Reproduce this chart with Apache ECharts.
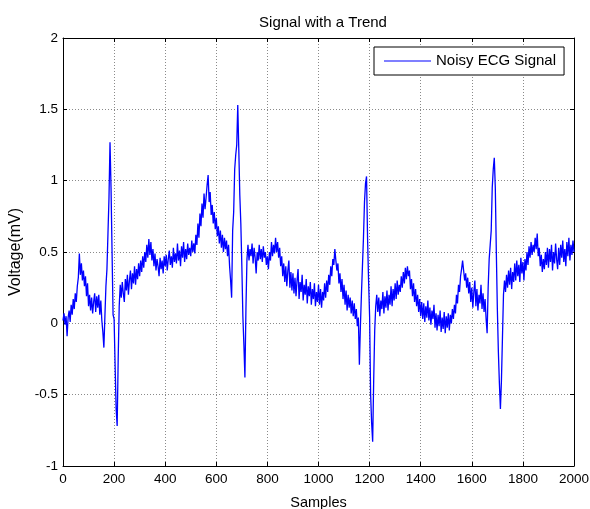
<!DOCTYPE html>
<html>
<head>
<meta charset="utf-8">
<script src="https://cdn.jsdelivr.net/npm/echarts@6/dist/echarts.min.js"></script>
<style>
html,body{margin:0;padding:0;background:#fff;}
#chart{width:590px;height:509px;}
</style>
</head>
<body>
<div id="chart"></div>
<script>
// Chart data
var titleText = 'Signal with a Trend';
var seriesName = 'Noisy ECG Signal';
var xTicks = [0, 200, 400, 600, 800, 1000, 1200, 1400, 1600, 1800, 2000];
var yTicks = [-1, -0.5, 0, 0.5, 1, 1.5, 2];
var sampleStep = 4; // voltage values are read every 4 samples, from sample 0 to 2000
var voltage = [
  // 0-96
  0.02, 0.07, -0.01, 0.05, -0.09, 0.04, 0.09, 0.01, 0.13, 0.06, 0.17, 0.10, 0.21, 0.15, 0.26, 0.32, 0.49, 0.34, 0.42, 0.30, 0.37, 0.26, 0.33, 0.19, 0.28,
  // 100-196
  0.12, 0.20, 0.09, 0.18, 0.07, 0.15, 0.21, 0.08, 0.19, 0.11, 0.20, 0.06, 0.16, 0.02, -0.06, -0.17, 0.05, 0.26, 0.38, 0.63, 0.88, 1.27, 0.95, 0.50, 0.06,
  // 200-296
  0.03, -0.30, -0.60, -0.72, -0.25, 0.12, 0.27, 0.18, 0.29, 0.21, 0.15, 0.31, 0.23, 0.34, 0.20, 0.30, 0.37, 0.24, 0.35, 0.28, 0.40, 0.27, 0.38, 0.31, 0.42,
  // 300-396
  0.33, 0.44, 0.36, 0.47, 0.39, 0.50, 0.43, 0.55, 0.46, 0.59, 0.48, 0.57, 0.44, 0.52, 0.40, 0.49, 0.37, 0.45, 0.40, 0.33, 0.46, 0.38, 0.44, 0.35, 0.47,
  // 400-496
  0.40, 0.48, 0.37, 0.45, 0.51, 0.41, 0.47, 0.39, 0.53, 0.43, 0.49, 0.42, 0.56, 0.44, 0.51, 0.40, 0.54, 0.46, 0.57, 0.43, 0.52, 0.45, 0.56, 0.48, 0.53,
  // 500-596
  0.47, 0.58, 0.50, 0.56, 0.49, 0.62, 0.55, 0.70, 0.60, 0.77, 0.68, 0.84, 0.74, 0.91, 0.80, 0.88, 0.97, 1.04, 0.85, 0.92, 0.76, 0.83, 0.70, 0.78, 0.66,
  // 600-696
  0.74, 0.61, 0.68, 0.56, 0.65, 0.53, 0.62, 0.50, 0.60, 0.52, 0.58, 0.47, 0.55, 0.40, 0.30, 0.18, 0.65, 0.78, 1.08, 1.18, 1.25, 1.53, 1.22, 0.90, 0.70,
  // 700-796
  0.40, 0.05, -0.15, -0.38, 0.10, 0.45, 0.55, 0.44, 0.52, 0.47, 0.56, 0.42, 0.53, 0.46, 0.35, 0.50, 0.44, 0.55, 0.45, 0.52, 0.43, 0.54, 0.46, 0.50, 0.41,
  // 800-896
  0.47, 0.38, 0.50, 0.44, 0.57, 0.47, 0.55, 0.49, 0.60, 0.50, 0.57, 0.46, 0.53, 0.40, 0.47, 0.33, 0.42, 0.29, 0.40, 0.26, 0.37, 0.44, 0.25, 0.36, 0.23,
  // 900-996
  0.35, 0.21, 0.32, 0.19, 0.30, 0.38, 0.17, 0.29, 0.22, 0.34, 0.16, 0.27, 0.20, 0.31, 0.14, 0.26, 0.19, 0.29, 0.13, 0.24, 0.17, 0.28, 0.12, 0.22, 0.15,
  // 1000-1096
  0.27, 0.13, 0.24, 0.11, 0.22, 0.16, 0.28, 0.18, 0.30, 0.22, 0.34, 0.27, 0.40, 0.33, 0.45, 0.41, 0.52, 0.44, 0.37, 0.42, 0.28, 0.35, 0.22, 0.31, 0.17,
  // 1100-1196
  0.27, 0.13, 0.23, 0.09, 0.20, 0.11, 0.18, 0.07, 0.16, 0.05, 0.14, 0.03, 0.10, -0.02, 0.04, -0.29, -0.02, 0.20, 0.40, 0.60, 0.85, 0.98, 1.03, 0.60, 0.30,
  // 1200-1296
  0.05, -0.50, -0.70, -0.83, -0.40, -0.05, 0.12, 0.20, 0.08, 0.18, 0.05, 0.16, 0.10, 0.22, 0.07, 0.19, 0.11, 0.23, 0.09, 0.20, 0.13, 0.26, 0.12, 0.24, 0.16,
  // 1300-1396
  0.28, 0.17, 0.30, 0.20, 0.27, 0.22, 0.33, 0.25, 0.36, 0.28, 0.39, 0.31, 0.40, 0.33, 0.37, 0.24, 0.31, 0.19, 0.28, 0.15, 0.24, 0.12, 0.20, 0.08, 0.17,
  // 1400-1496
  0.05, 0.15, 0.03, 0.14, 0.01, 0.12, 0.04, 0.16, 0.02, 0.11, -0.01, 0.09, 0.03, 0.13, -0.03, 0.07, -0.05, 0.06, -0.02, 0.09, -0.06, 0.04, -0.04, 0.08, -0.07,
  // 1500-1596
  0.05, -0.03, 0.07, -0.05, 0.06, 0.00, 0.10, 0.03, 0.13, 0.07, 0.20, 0.14, 0.27, 0.22, 0.33, 0.38, 0.44, 0.37, 0.30, 0.35, 0.25, 0.32, 0.21, 0.29, 0.15,
  // 1600-1696
  0.25, 0.11, 0.22, 0.30, 0.12, 0.24, 0.09, 0.20, 0.14, 0.27, 0.10, 0.21, 0.08, 0.17, 0.03, -0.07, 0.25, 0.45, 0.55, 0.65, 0.95, 1.08, 1.16, 0.95, 0.50,
  // 1700-1796
  0.10, -0.20, -0.42, -0.60, -0.40, -0.10, 0.20, 0.30, 0.22, 0.34, 0.25, 0.37, 0.27, 0.39, 0.24, 0.36, 0.29, 0.42, 0.30, 0.44, 0.33, 0.41, 0.29, 0.46, 0.35,
  // 1800-1896
  0.43, 0.30, 0.45, 0.37, 0.50, 0.41, 0.54, 0.46, 0.57, 0.48, 0.55, 0.50, 0.60, 0.52, 0.63, 0.47, 0.53, 0.40, 0.48, 0.36, 0.45, 0.38, 0.50, 0.41, 0.53,
  // 1900-2000
  0.39, 0.52, 0.43, 0.55, 0.37, 0.50, 0.42, 0.56, 0.45, 0.38, 0.53, 0.41, 0.55, 0.46, 0.58, 0.43, 0.52, 0.40, 0.57, 0.47, 0.60, 0.44, 0.55, 0.48, 0.58,
  0.50
];

var data = voltage.map(function (v, i) { return [i * sampleStep, v]; });

var FONT = 'Liberation Sans, Arial, sans-serif';
var chart = echarts.init(document.getElementById('chart'), null, {renderer: 'canvas'});

function xAxisCfg(pos, show) {
  return {
    type: 'value', position: pos,
    min: xTicks[0], max: xTicks[xTicks.length - 1], interval: 200,
    axisLine: {show: true, onZero: false, lineStyle: {color: '#000', width: 1}},
    axisTick: {show: true, inside: true, length: 4, lineStyle: {color: '#000'}},
    axisLabel: {show: show, color: '#000', fontFamily: FONT, fontSize: 13.5, margin: 6,
      formatter: function (v) { return String(v); }},
    splitLine: {show: show, lineStyle: {color: '#8a8a8a', type: [1, 2], width: 1}},
    name: show ? 'Samples' : '', nameLocation: 'middle', nameGap: 29,
    nameTextStyle: {color: '#000', fontFamily: FONT, fontSize: 14.5}
  };
}
function yAxisCfg(pos, show) {
  return {
    type: 'value', position: pos,
    min: yTicks[0], max: yTicks[yTicks.length - 1], interval: 0.5,
    axisLine: {show: true, onZero: false, lineStyle: {color: '#000', width: 1}},
    axisTick: {show: true, inside: true, length: 4, lineStyle: {color: '#000'}},
    axisLabel: {show: show, color: '#000', fontFamily: FONT, fontSize: 13.5, margin: 5,
      formatter: function (v) { return String(v); }},
    splitLine: {show: show, lineStyle: {color: '#8a8a8a', type: [1, 2], width: 1}},
    name: show ? 'Voltage(mV)' : '', nameLocation: 'middle', nameGap: 35, nameRotate: 90,
    nameTextStyle: {color: '#000', fontFamily: FONT, fontSize: 16}
  };
}

chart.setOption({
  animation: false,
  backgroundColor: '#fff',
  title: {
    text: titleText, left: 318, top: 10, textAlign: 'center',
    textStyle: {color: '#000', fontFamily: FONT, fontSize: 15, fontWeight: 'normal'}
  },
  legend: {
    data: [{name: seriesName, icon: 'rect', itemStyle: {color: '#0000ff'}}],
    left: 374, top: 47,
    padding: [6, 8, 6, 10],
    itemWidth: 47, itemHeight: 1, itemGap: 5,
    backgroundColor: '#fff', borderColor: '#000', borderWidth: 1, borderRadius: 0,
    selectedMode: false,
    textStyle: {color: '#000', fontFamily: FONT, fontSize: 15, lineHeight: 16}
  },
  grid: {left: 63, right: 16, top: 38, bottom: 43, containLabel: false, outerBoundsMode: 'none'},
  xAxis: [xAxisCfg('bottom', true), xAxisCfg('top', false)],
  yAxis: [yAxisCfg('left', true), yAxisCfg('right', false)],
  series: [{
    name: seriesName, type: 'line', data: data,
    xAxisIndex: 0, yAxisIndex: 0,
    symbol: 'none', showSymbol: false,
    lineStyle: {color: '#0000ff', width: 1.3},
    itemStyle: {color: '#0000ff'},
    silent: true, z: 5
  }]
});
</script>
</body>
</html>
